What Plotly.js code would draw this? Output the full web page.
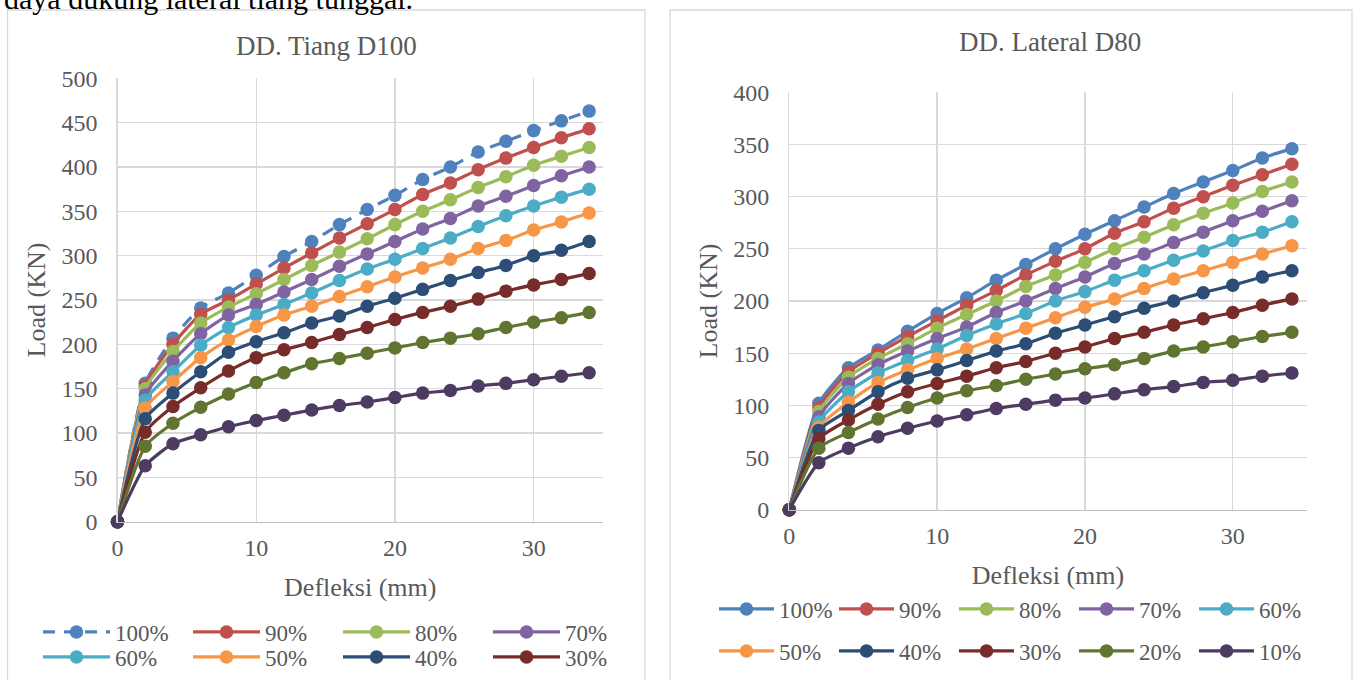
<!DOCTYPE html>
<html>
<head>
<meta charset="utf-8">
<script src="https://cdn.plot.ly/plotly-3.0.1.min.js"></script>
<style>
html,body{margin:0;padding:0;background:#ffffff;}
#chart{width:1362px;height:680px;}
</style>
</head>
<body>
<div id="chart"></div>
<script>
// ---- data ----
const deflection = [0,2,4,6,8,10,12,14,16,18,20,22,24,26,28,30,32,34];
const seriesNames = ['100%','90%','80%','70%','60%','50%','40%','30%','20%','10%'];
const seriesColors = ['#4F81BD','#C0504D','#9BBB59','#8064A2','#4BACC6','#F79646','#2C4D75','#772C2A','#5F7530','#4D3B62'];

// DD. Tiang D100 (Load, KN)
const tiang100 = [0,156,207,241,258,278,299,316,335,352,368,386,400,417,429,441,452,463];
const tiang90  = [0,153,200,234,250,268,286,303,320,336,352,369,382,397,410,422,433,443];
const tiang80  = [0,150,192,224,242,257,273,289,304,319,335,350,363,377,389,402,412,422];
const tiang70  = [0,143,181,212,233,245,259,273,288,302,316,330,342,356,367,379,390,400];
const tiang60  = [0,137,169,199,219,233,245,258,272,285,296,308,320,333,345,356,366,375];
const tiang50  = [0,128,158,185,205,220,233,243,254,265,276,286,296,308,317,329,338,348];
const tiang40  = [0,116,145,169,191,203,213,224,232,243,252,262,272,281,289,300,306,316];
const tiang30  = [0,101,130,151,170,185,194,202,211,219,228,236,243,251,260,267,273,280];
const tiang20  = [0,85,111,129,144,157,168,178,184,190,196,202,207,212,219,225,230,236];
const tiang10  = [0,63,88,98,107,114,120,126,131,135,140,145,148,153,156,160,164,168];

// DD. Lateral D80 (Load, KN)
const lateral100 = [0,102,136,153,171,188,203,220,235,250,264,277,290,303,314,325,337,346];
const lateral90  = [0,98,132,150,166,181,196,210,225,238,250,265,276,289,300,311,321,331];
const lateral80  = [0,94,127,145,159,174,187,200,214,225,237,250,261,273,284,294,305,314];
const lateral70  = [0,89,121,139,152,164,175,189,200,212,223,236,245,256,266,277,286,296];
const lateral60  = [0,84,113,131,143,154,167,178,188,200,209,220,229,239,248,258,266,276];
const lateral50  = [0,79,103,122,134,145,154,164,174,184,194,202,212,221,229,237,245,253];
const lateral40  = [0,76,95,113,126,134,143,152,159,169,177,185,193,200,208,215,223,229];
const lateral30  = [0,68,86,101,113,121,128,136,142,150,156,164,170,177,183,189,196,202];
const lateral20  = [0,59,74,87,98,107,114,119,125,130,135,139,145,152,156,161,166,170];
const lateral10  = [0,45,59,70,78,85,91,97,101,105,107,111,115,118,122,124,128,131];

const xTickVals = [0,10,20,30];
const tiangTitle = 'DD. Tiang D100';
const lateralTitle = 'DD. Lateral D80';
const xTitle = 'Defleksi (mm)';
const yTitle = 'Load (KN)';
const pageText = 'daya dukung lateral tiang tunggal.';

// ---- build ----
const W = 1362, H = 680;
const px = v => v / W;
const py = v => 1 - v / H;
const FONT = 'Liberation Serif';
const GREY = '#595959';

const tiangSeries = [tiang100,tiang90,tiang80,tiang70,tiang60,tiang50,tiang40,tiang30,tiang20,tiang10];
const lateralSeries = [lateral100,lateral90,lateral80,lateral70,lateral60,lateral50,lateral40,lateral30,lateral20,lateral10];

const traces = [];
tiangSeries.forEach((ys, i) => {
  traces.push({
    type: 'scatter', mode: 'lines+markers',
    x: deflection, y: ys, name: seriesNames[i],
    xaxis: 'x', yaxis: 'y',
    line: {color: seriesColors[i], width: 3.2, shape: 'spline', smoothing: 0.6,
           dash: i === 0 ? '12px,9px' : 'solid'},
    marker: {color: seriesColors[i], size: 13.5},
    cliponaxis: false,
    legend: i < 4 ? 'legend' : 'legend2',
    showlegend: i < 8
  });
});
lateralSeries.forEach((ys, i) => {
  traces.push({
    type: 'scatter', mode: 'lines+markers',
    x: deflection, y: ys, name: seriesNames[i],
    xaxis: 'x2', yaxis: 'y2',
    line: {color: seriesColors[i], width: 3.2, shape: 'spline', smoothing: 0.6},
    marker: {color: seriesColors[i], size: 13.5},
    cliponaxis: false,
    legend: i < 5 ? 'legend3' : 'legend4',
    showlegend: true
  });
});

function xAxis(domain) {
  return {
    domain: domain, range: [0, 35], tickvals: xTickVals, ticktext: xTickVals.map(String),
    showgrid: true, gridcolor: '#D9D9D9', gridwidth: 1.3, zeroline: false,
    showline: true, linecolor: '#BFBFBF', linewidth: 1.5, ticks: '',
    tickfont: {family: FONT, size: 24, color: GREY},
    ticklabelstandoff: 4,
    title: {text: xTitle, font: {family: FONT, size: 26, color: GREY}, standoff: 18},
    automargin: false, fixedrange: true
  };
}
function yAxis(domain, max, anchor) {
  return {
    domain: domain, range: [0, max], dtick: 50, tick0: 0, anchor: anchor,
    showgrid: true, gridcolor: '#D9D9D9', gridwidth: 1.3, zeroline: false,
    showline: true, linecolor: '#D9D9D9', linewidth: 1.3, ticks: '',
    tickfont: {family: FONT, size: 24, color: GREY},
    ticklabelstandoff: 14,
    title: {text: yTitle, font: {family: FONT, size: 26, color: GREY}, standoff: 8},
    automargin: false, fixedrange: true
  };
}
function legendCfg(x, y, itemwidth, entrywidth) {
  return {
    orientation: 'h', x: px(x), xanchor: 'left', y: py(y), yanchor: 'middle',
    itemwidth: itemwidth, entrywidth: entrywidth, entrywidthmode: 'pixels',
    font: {family: FONT, size: 23, color: GREY},
    bgcolor: 'rgba(0,0,0,0)', borderwidth: 0, traceorder: 'normal',
    itemclick: false, itemdoubleclick: false
  };
}

const layout = {
  width: W, height: H,
  font: {family: FONT, color: GREY},
  margin: {l: 0, r: 0, t: 0, b: 0, pad: 0},
  paper_bgcolor: '#ffffff', plot_bgcolor: '#ffffff',
  xaxis: Object.assign(xAxis([px(117.5), px(603)]), {anchor: 'y'}),
  yaxis: yAxis([py(521.7), py(78.3)], 500, 'x'),
  xaxis2: Object.assign(xAxis([px(789.3), px(1306.7)]), {anchor: 'y2'}),
  yaxis2: yAxis([py(509.7), py(92.3)], 400, 'x2'),
  legend: legendCfg(38, 632, 67, 68),
  legend2: legendCfg(38, 657, 67, 68),
  legend3: legendCfg(714, 609, 55, 50),
  legend4: legendCfg(714, 651, 55, 50),
  shapes: [
    {type: 'rect', xref: 'paper', yref: 'paper', x0: px(7.5), x1: px(645), y0: py(10), y1: py(700),
     line: {color: '#D9D9D9', width: 1.3}, fillcolor: 'rgba(0,0,0,0)', layer: 'below'},
    {type: 'rect', xref: 'paper', yref: 'paper', x0: px(670), x1: px(1352), y0: py(10), y1: py(700),
     line: {color: '#D9D9D9', width: 1.3}, fillcolor: 'rgba(0,0,0,0)', layer: 'below'}
  ],
  annotations: [
    {text: tiangTitle, xref: 'paper', yref: 'paper', x: px(326), y: py(46), xanchor: 'center', yanchor: 'middle',
     showarrow: false, font: {family: FONT, size: 27, color: GREY}},
    {text: lateralTitle, xref: 'paper', yref: 'paper', x: px(1050), y: py(42), xanchor: 'center', yanchor: 'middle',
     showarrow: false, font: {family: FONT, size: 27, color: GREY}},
    {text: pageText, xref: 'paper', yref: 'paper', x: px(2), y: py(-2), xanchor: 'left', yanchor: 'middle',
     showarrow: false, font: {family: FONT, size: 30, color: '#000000'}}
  ],
  showlegend: true
};

Plotly.newPlot('chart', traces, layout, {displayModeBar: false, staticPlot: true});
</script>
</body>
</html>
